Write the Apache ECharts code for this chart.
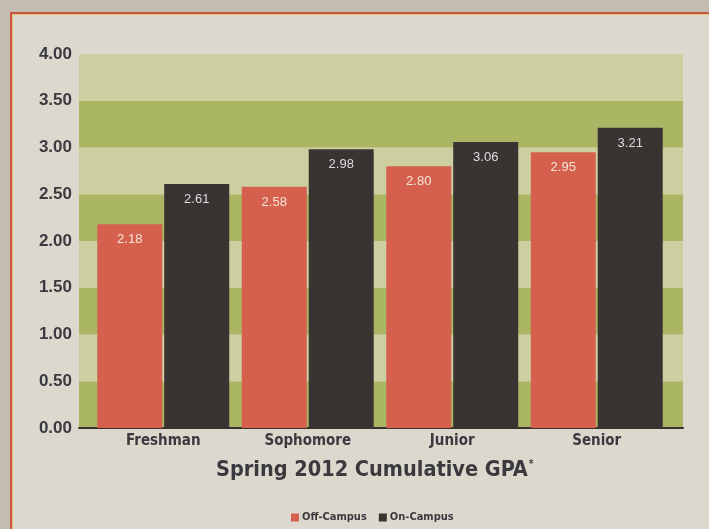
<!DOCTYPE html>
<html>
<head>
<meta charset="utf-8">
<script src="https://cdn.jsdelivr.net/npm/echarts@6/dist/echarts.min.js"></script>
<style>
html,body{margin:0;padding:0;width:709px;height:529px;overflow:hidden;background:#c3bdaf;}
#frame{position:absolute;left:10px;top:12px;width:699px;height:517px;background:#dcd8ce;border-left:2px solid #c85446;border-top:2px solid #c85446;box-sizing:border-box;box-shadow:inset 1px 1px 0 #e2c46a;}
#chart{position:absolute;left:0;top:0;width:709px;height:529px;}
</style>
</head>
<body>
<div id="frame"></div>
<div id="chart"></div>
<script>
var categories = ['Freshman', 'Sophomore', 'Junior', 'Senior'];
var offCampus = [2.18, 2.58, 2.80, 2.95];
var onCampus = [2.61, 2.98, 3.06, 3.21];
var yTicks = ['0.00','0.50','1.00','1.50','2.00','2.50','3.00','3.50','4.00'];

var narrow = '"DejaVu Sans Condensed", "Liberation Sans", sans-serif';
var chart = echarts.init(document.getElementById('chart'), null, {renderer: 'canvas'});
chart.setOption({
  backgroundColor: 'transparent',
  animation: false,
  title: {
    text: '{a|Spring 2012 Cumulative GPA}{s|*}',
    left: 211, top: 454,
    textStyle: {
      rich: {
        a: {fontFamily: narrow, fontWeight: 'bold', fontSize: 21.5, color: '#3a3a3e'},
        s: {fontFamily: narrow, fontWeight: 'bold', fontSize: 10, color: '#3a3a3e', verticalAlign: 'top', padding: [0,0,12,1]}
      }
    }
  },
  legend: {
    left: 286, top: 507,
    itemWidth: 8, itemHeight: 8, itemGap: 12,
    icon: 'rect',
    textStyle: {fontFamily: narrow, fontWeight: 'bold', fontSize: 11, color: '#3a3a3e', padding: [0,0,0,-2]},
    data: ['Off-Campus', 'On-Campus']
  },
  grid: [
    {left: 79, right: 26, top: 54, bottom: 101},
    {left: 91, right: 40, top: 54, bottom: 101}
  ],
  xAxis: [
    {gridIndex: 0, type: 'category', data: [''], axisLine: {show: true, lineStyle: {color: '#3a302c', width: 2}}, axisTick: {show: false}, axisLabel: {show: false}},
    {gridIndex: 1, type: 'category', data: categories, axisLine: {show: false}, axisTick: {show: false},
     axisLabel: {margin: 6, fontFamily: narrow, fontWeight: 'bold', fontSize: 15, color: '#3a3a3e'}}
  ],
  yAxis: [
    {gridIndex: 0, type: 'value', min: 0, max: 4, interval: 0.5,
     axisLine: {show: false}, axisTick: {show: false}, splitLine: {show: false},
     splitArea: {show: true, areaStyle: {color: ['#aab664', '#cdcfa0']}},
     axisLabel: {margin: 7, fontFamily: '"Liberation Sans", Arial, sans-serif', fontWeight: 'bold', fontSize: 17, color: '#3a3a40',
       formatter: function (v) { return yTicks[Math.round(v / 0.5)]; }}},
    {gridIndex: 1, type: 'value', min: 0, max: 4, show: false}
  ],
  series: [
    {name: 'Off-Campus', type: 'bar', xAxisIndex: 1, yAxisIndex: 1, data: offCampus,
     barWidth: 65, barGap: '3%', itemStyle: {color: '#d6604e'},
     label: {show: true, position: 'insideTop', distance: 9, fontFamily: '"Liberation Sans", Arial, sans-serif', fontSize: 13, color: '#f2e4d6',
       formatter: function (p) { return p.value.toFixed(2); }}},
    {name: 'On-Campus', type: 'bar', xAxisIndex: 1, yAxisIndex: 1, data: onCampus,
     barWidth: 65, itemStyle: {color: '#393331'},
     label: {show: true, position: 'insideTop', distance: 9, fontFamily: '"Liberation Sans", Arial, sans-serif', fontSize: 13, color: '#dcdde2',
       formatter: function (p) { return p.value.toFixed(2); }}}
  ]
});
</script>
</body>
</html>
